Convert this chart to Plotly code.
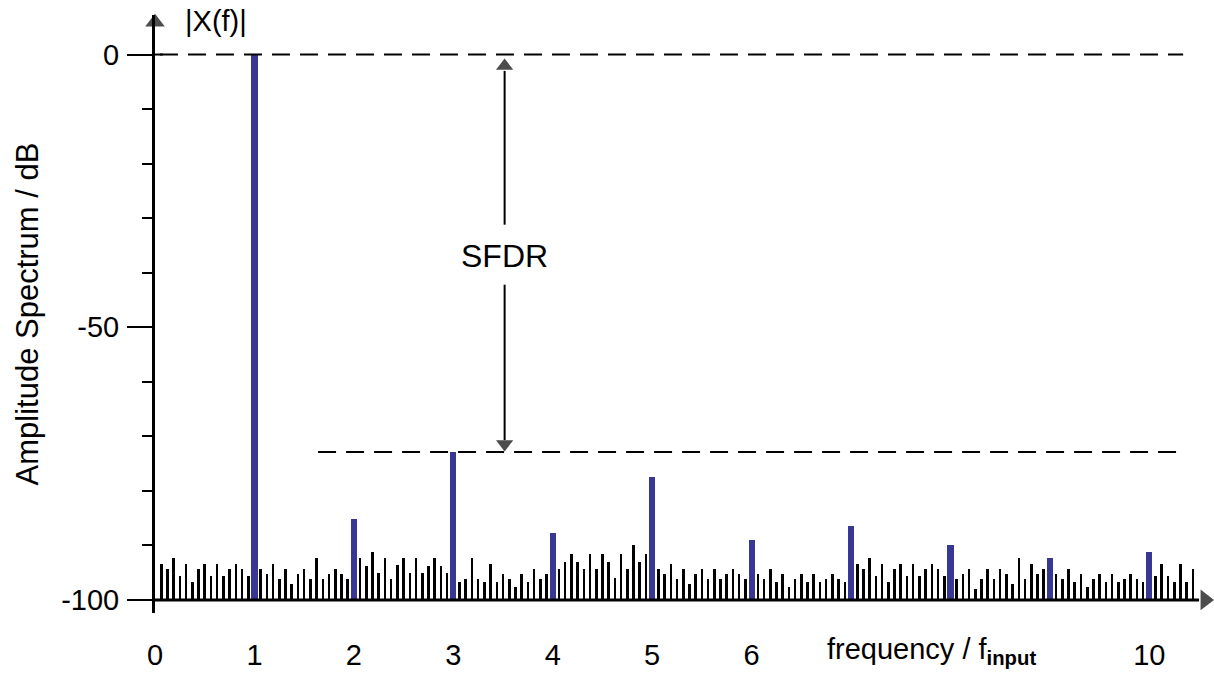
import plotly.graph_objects as go

# ---- data (dB) ----
harm_freq = [1, 2, 3, 4, 5, 6, 7, 8, 9, 10]
harm_db = [0.0, -85.2, -72.9, -87.8, -77.5, -89.0, -86.4, -89.9, -92.4, -91.2]

# noise floor bins (bin index k -> frequency k/16), fundamental/harmonic bins excluded
noise_bins = [k for k in range(1, 168) if k % 16 != 0]
noise_db = [
    -93.5, -94.4, -92.4, -95.7, -93.5, -96.8, -94.4, -93.5, -95.7, -93.5, -95.7, -94.4, -93.5, -94.4, -95.7,
    -94.4, -95.3, -93.5, -96.2, -94.4, -97.1, -95.3, -94.4, -96.2, -92.4, -96.2, -95.3, -94.4, -95.3, -96.2,
    -92.4, -93.8, -91.2, -95.0, -92.4, -96.2, -93.6, -92.4, -95.0, -92.4, -95.0, -93.8, -92.4, -93.8, -95.0,
    -96.8, -96.2, -92.4, -96.2, -96.8, -93.5, -96.8, -95.3, -96.2, -97.7, -95.3, -96.8, -94.4, -96.2, -95.3,
    -94.4, -93.0, -91.5, -93.0, -94.4, -91.5, -94.4, -91.5, -93.0, -95.9, -91.5, -94.4, -89.9, -93.0, -91.5,
    -94.4, -95.3, -93.5, -96.2, -94.4, -97.1, -95.3, -94.4, -96.2, -94.4, -96.2, -95.3, -94.4, -95.3, -96.2,
    -95.3, -96.2, -94.4, -96.8, -95.3, -97.7, -96.2, -95.3, -96.8, -95.3, -96.8, -96.2, -95.3, -96.2, -96.8,
    -93.5, -94.4, -92.4, -95.6, -93.5, -96.8, -94.4, -93.5, -95.6, -93.5, -95.6, -94.4, -93.5, -94.4, -95.6,
    -96.2, -95.3, -94.4, -98.0, -96.2, -94.4, -96.2, -94.4, -95.3, -97.1, -92.4, -96.2, -93.5, -95.3, -94.4,
    -95.3, -96.2, -94.4, -96.8, -95.3, -97.7, -96.2, -95.3, -96.8, -95.3, -96.8, -96.2, -95.3, -96.2, -96.8,
    -95.6, -93.5, -95.6, -96.8, -93.5, -96.8, -94.4,
]
x_tick_vals = [0, 1, 2, 3, 4, 5, 6, 10]
x_tick_text = ["0", "1", "2", "3", "4", "5", "6", "10"]
y_tick_vals = [0, -50, -100]
y_tick_text = ["0", "-50", "-100"]
y_minor_vals = [-10, -20, -30, -40, -60, -70, -80, -90]

FLOOR = -100.0
noise_freq = [k / 16 for k in noise_bins]
sfdr_level = max(harm_db[1:])

FONT = "Liberation Sans, Arial, sans-serif"
BLUE = "#383894"
FS = 29

fig = go.Figure()
fig.add_trace(go.Bar(
    x=noise_freq, y=[v - FLOOR for v in noise_db], base=FLOOR,
    width=0.026, marker=dict(color="black", line=dict(width=0)), showlegend=False,
    hoverinfo="skip",
))
fig.add_trace(go.Bar(
    x=harm_freq, y=[v - FLOOR for v in harm_db], base=FLOOR,
    width=0.062, marker=dict(color=BLUE, line=dict(width=0)), showlegend=False,
))

# dashed reference lines
fig.add_shape(type="line", x0=0.05, x1=10.34, y0=0, y1=0,
              line=dict(color="black", width=2, dash="18px,10px"))
fig.add_shape(type="line", x0=1.64, x1=10.29, y0=sfdr_level, y1=sfdr_level,
              line=dict(color="black", width=2, dash="18px,10px"))
# x axis line at the floor, and crossing tick at 0 dB
fig.add_shape(type="line", x0=0, x1=10.5, y0=FLOOR, y1=FLOOR,
              line=dict(color="black", width=3))
fig.add_shape(type="line", x0=0, x1=0.08, y0=0, y1=0, line=dict(color="black", width=2))

# SFDR double arrow shafts
xa = 3.516
fig.add_shape(type="line", x0=xa, x1=xa, y0=-3.0, y1=-31.2, line=dict(color="black", width=2))
fig.add_shape(type="line", x0=xa, x1=xa, y0=-42.2, y1=sfdr_level + 2.2,
              line=dict(color="black", width=2))

# arrow heads as triangle markers
fig.add_trace(go.Scatter(
    x=[10.56, 0, xa, xa], y=[FLOOR, 5.9, -2.1, sfdr_level + 1.5],
    mode="markers", cliponaxis=False, showlegend=False, hoverinfo="skip",
    marker=dict(symbol=["triangle-right", "triangle-up", "triangle-up", "triangle-down"],
                size=[18, 17, 15, 15], color="black", line=dict(width=0)),
))

fig.add_annotation(x=xa, y=-36.9, text="SFDR", showarrow=False,
                   font=dict(family=FONT, size=32, color="black"))
fig.add_annotation(x=0.28, y=6.1, text="|X(f)|", showarrow=False, xanchor="left",
                   font=dict(family=FONT, size=FS, color="black"))
fig.add_annotation(xref="paper", yref="paper", x=(825 - 155) / 1057, y=(613 - 651) / 598,
                   text="frequency / f<sub><b>input</b></sub>", showarrow=False,
                   xanchor="left", yanchor="middle",
                   font=dict(family=FONT, size=FS, color="black"))

fig.update_layout(
    width=1214, height=673,
    margin=dict(l=155, r=2, t=15, b=60),
    plot_bgcolor="white", paper_bgcolor="white",
    barmode="overlay", bargap=0,
    font=dict(family=FONT, size=FS, color="black"),
    xaxis=dict(range=[0, 10.63], showgrid=False, zeroline=False, showline=False,
               tickvals=x_tick_vals, ticktext=x_tick_text, ticks="",
               ticklabelstandoff=22, tickfont=dict(size=FS)),
    yaxis=dict(range=[-102.4, 7.25], showgrid=False, zeroline=False, showline=True,
               linecolor="black", linewidth=3,
               title=dict(text="Amplitude Spectrum / dB", standoff=14,
                          font=dict(family=FONT, size=31, color="black")),
               tickvals=y_tick_vals, ticktext=y_tick_text, ticks="outside",
               ticklen=25, tickwidth=2, tickcolor="black", tickfont=dict(size=FS),
               ticklabelstandoff=2,
               minor=dict(tickvals=y_minor_vals, ticks="outside", ticklen=10,
                          tickwidth=2, tickcolor="black")),
)

fig.write_html("out.html")
